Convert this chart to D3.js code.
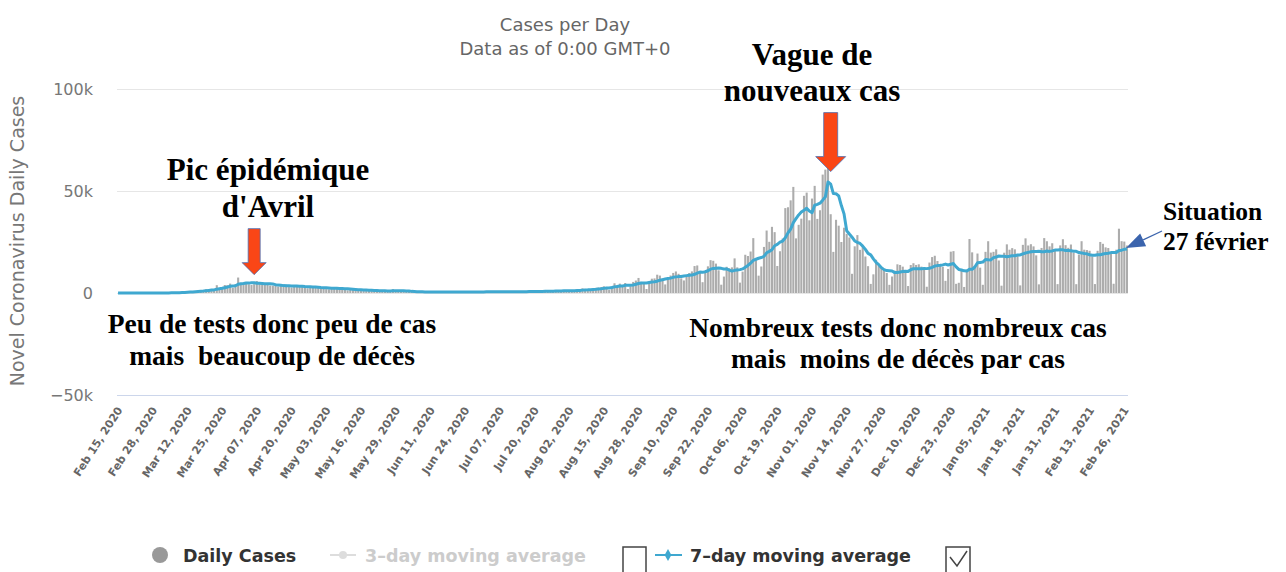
<!DOCTYPE html>
<html><head><meta charset="utf-8">
<script src="https://cdn.jsdelivr.net/npm/d3@7"></script>
<style>
body{margin:0;background:#fff;}
svg{display:block;}
text{white-space:pre;}
</style></head><body>
<svg id="chart" width="1286" height="572"></svg>
<script>
// ---- Daily new cases (France, Worldometer style), one array per month ----
const feb2020=[0,0,0,0,0,0,0,0,0,0,2,4,20,19,43];
const mar2020=[30,61,21,73,138,190,336,177,286,372,497,595,785,838,924,1210,1097,1404,1861,1617,1847,1559,3838,2446,2931,3922,3809,4611,2599,4376,7578];
const apr2020=[4861,4985,5233,4267,3912,4342,5850,4799,4286,4342,4114,3673,3540,3890,3200,3600,3300,4100,2900,2700,3800,3400,3100,3500,2800,2300,2600,3200,2900,2500];
const may2020=[2600,2300,1900,1800,2500,2700,2400,2100,1900,1500,1300,1800,1900,1600,1400,1300,1100,1000,1300,1400,1200,1100,900,800,700,1000,1100,1900,1300,1000,700];
const jun2020=[500,700,800,600,650,550,400,350,500,600,700,650,500,400,300,450,550,600,500,450,350,300,400,500,550,600,500,400,350,500];
const jul2020=[800,900,700,600,400,350,700,800,750,700,650,500,450,600,750,900,850,800,700,550,600,900,1000,1100,1050,900,700,800,1200,1300,1350];
const aug2020=[1346,1200,700,1039,1695,1604,2288,2000,1500,1397,1700,2500,2669,2846,3310,2946,1500,3100,4771,3776,4586,3602,4897,1955,3304,5429,6111,7379,5453,4967,1955];
const sep2020=[4982,7017,7157,8975,8550,7071,4203,6544,8577,9843,10561,9406,7183,6158,7852,9784,10593,13215,13498,10569,5298,10008,13072,16096,15797,14412,11123,4070,8051,12845];
const oct2020=[12148,12565,16972,12565,5084,10489,18746,18129,20339,26896,16101,8505,12993,22591,30621,25086,32427,29837,13243,20468,26676,41622,42032,45422,52010,26771,33417,36437,47637,49215,35641];
const nov2020=[46290,52518,36330,40558,58046,60486,86852,38619,20155,35879,33000,25000,32000,29000,27228,9406,22882,28383,21150,22882,17881,13157,4452,9155,16282,13563,12459,11221,9784,4005];
const dec2020=[8083,10934,14064,13750,12923,11022,3411,13713,14595,13750,14064,12923,11533,3063,14929,17615,18254,15674,13947,12799,5960,11795,20262,20526,4500,5000,11000,2960,11395,26457,19927];
const jan2021=[12489,19348,12424,4022,20177,25379,19814,20177,21406,15944,3582,19752,23852,21228,22000,21406,18559,3736,23608,26784,23292,23924,22858,18436,4240,22086,26916,25376,22858,24392,21406];
const feb2021=[4347,23337,26362,23448,22139,23770,19715,4317,18870,25387,21231,21063,20701,17898,4376,20701,25018,24116,22371,22046,19951,4529,21231,31519,25403,25207,23292];

const dailyCases=[].concat(feb2020,mar2020,apr2020,may2020,jun2020,jul2020,aug2020,sep2020,oct2020,nov2020,dec2020,jan2021,feb2021);

const tickLabels=["Feb 15, 2020","Feb 28, 2020","Mar 12, 2020","Mar 25, 2020","Apr 07, 2020","Apr 20, 2020","May 03, 2020","May 16, 2020","May 29, 2020","Jun 11, 2020","Jun 24, 2020","Jul 07, 2020","Jul 20, 2020","Aug 02, 2020","Aug 15, 2020","Aug 28, 2020","Sep 10, 2020","Sep 22, 2020","Oct 06, 2020","Oct 19, 2020","Nov 01, 2020","Nov 14, 2020","Nov 27, 2020","Dec 10, 2020","Dec 23, 2020","Jan 05, 2021","Jan 18, 2021","Jan 31, 2021","Feb 13, 2021","Feb 26, 2021"];
const tickInterval=13;
const yTicks=[-50000,0,50000,100000];
const yTickLabels=["\u221250k","0","50k","100k"];
const titleLines=["Cases per Day","Data as of 0:00 GMT+0"];
const yAxisTitle="Novel Coronavirus Daily Cases";

// annotation anchors (category index, value)
const peak1={index:51, value:9000};      // Apr 06, 2020
const peak2={index:267, value:59500};    // Nov 08, 2020

// ---- chart ----
const svg=d3.select("#chart");
const sans="DejaVu Sans, Verdana, sans-serif";
const n=dailyCases.length;
const plot={left:117,right:1128};
const x=d3.scaleBand().domain(d3.range(n)).range([plot.left,plot.right]).paddingInner(0.22);
const y=d3.scaleLinear().domain([-50000,100000]).range([395,89]);
const cx=i=>x(i)+x.bandwidth()/2;

const avg7=dailyCases.map((d,i)=>d3.mean(dailyCases.slice(Math.max(0,i-6),i+1)));

// title
svg.append("g").selectAll("text").data(titleLines).join("text")
  .attr("x",565).attr("y",(d,i)=>31+i*24).attr("text-anchor","middle")
  .attr("font-family",sans).attr("font-size",18).attr("fill","#666")
  .text(d=>d);

// gridlines + y labels
const yAxis=d3.axisLeft(y).tickValues(yTicks).tickSize(-(plot.right-plot.left)).tickFormat((d,i)=>yTickLabels[i]);
const gy=svg.append("g").attr("transform",`translate(${plot.left},0)`).call(yAxis);
gy.select(".domain").remove();
gy.selectAll(".tick line").attr("stroke",d=>d===-50000?"#ccd6eb":"#e6e6e6").attr("stroke-width",1);
gy.selectAll(".tick text").attr("x",-24).attr("dy","0.32em")
  .attr("font-family",sans).attr("font-size",16).attr("fill","#777");

svg.append("text").attr("transform","translate(24,241) rotate(-90)").attr("text-anchor","middle")
  .attr("font-family",sans).attr("font-size",19).attr("fill","#777")
  .text(yAxisTitle);

// bars
svg.append("g").selectAll("rect").data(dailyCases).join("rect")
  .attr("x",(d,i)=>x(i)).attr("width",x.bandwidth())
  .attr("y",d=>y(Math.max(0,d))).attr("height",d=>Math.abs(y(d)-y(0)))
  .attr("fill","#acacac");

// 7-day moving average
svg.append("path").datum(avg7)
  .attr("d",d3.line().x((d,i)=>cx(i)).y(d=>y(d)))
  .attr("fill","none").attr("stroke","#3fa8d0").attr("stroke-width",3).attr("stroke-linejoin","round");

// x axis labels
const tickIdx=d3.range(0,n,tickInterval).slice(0,tickLabels.length);
svg.append("g").selectAll("text").data(tickIdx).join("text")
  .attr("transform",d=>`translate(${cx(d)+5},${410}) rotate(-57)`)
  .attr("text-anchor","end")
  .attr("font-family",sans).attr("font-size",11).attr("font-weight","bold").attr("fill","#666")
  .text((d,i)=>tickLabels[i]);

// ---- annotations ----
const serif="Liberation Serif, Times New Roman, serif";
function note(lines,xc,y0,dy,size,anchor){
  svg.append("g").selectAll("text").data(lines).join("text")
    .attr("x",xc).attr("y",(d,i)=>y0+i*dy).attr("text-anchor",anchor||"middle")
    .attr("font-family",serif).attr("font-weight","bold").attr("font-size",size).attr("fill","#000")
    .text(d=>d);
}
note(["Pic épidémique","d'Avril"],268,180,37,31);
note(["Vague de","nouveaux cas"],812,65,36,31);
note(["Peu de tests donc peu de cas","mais  beaucoup de décès"],272,333,32,27.5);
note(["Nombreux tests donc nombreux cas","mais  moins de décès par cas"],898,337,31,27.5);
note(["Situation","27 février"],1163,220,30,25.5,"start");

function downArrow(tipX,tipY,len,shaftW,headW,headL){
  const t=tipY, s=tipY-headL, top=tipY-len;
  const pts=[[tipX-shaftW/2,top],[tipX+shaftW/2,top],[tipX+shaftW/2,s],[tipX+headW/2,s],[tipX,t],[tipX-headW/2,s],[tipX-shaftW/2,s]];
  svg.append("polygon").attr("points",pts.map(p=>p.join(",")).join(" "))
    .attr("fill","#fa4616").attr("stroke","#4a6fb5").attr("stroke-width",0.8);
}
downArrow(cx(peak1.index),y(peak1.value),46,12,24,12);
downArrow(cx(peak2.index),y(peak2.value),59,14,30,15);

// blue pointer to last value
const last=n-1;
const tip=[cx(last)-1,y(avg7[last])-1], tail=[1162,231];
const ang=Math.atan2(tail[1]-tip[1],tail[0]-tip[0]);
const hl=19,hw=7;
const bx=tip[0]+hl*Math.cos(ang), by=tip[1]+hl*Math.sin(ang);
svg.append("line").attr("x1",tail[0]).attr("y1",tail[1]).attr("x2",bx).attr("y2",by)
  .attr("stroke","#3b64ad").attr("stroke-width",1.2);
svg.append("polygon").attr("points",[tip,[bx+hw*Math.sin(ang),by-hw*Math.cos(ang)],[bx-hw*Math.sin(ang),by+hw*Math.cos(ang)]].map(p=>p.join(",")).join(" "))
  .attr("fill","#3b64ad");

// ---- legend ----
const lg=svg.append("g").attr("font-family",sans).attr("font-weight","bold").attr("font-size",17.5);
lg.append("circle").attr("cx",160).attr("cy",555).attr("r",8).attr("fill","#999");
lg.append("text").attr("x",183).attr("y",562).attr("fill","#333").text("Daily Cases");
lg.append("line").attr("x1",330).attr("x2",356).attr("y1",555).attr("y2",555).attr("stroke","#ddd").attr("stroke-width",2);
lg.append("circle").attr("cx",343).attr("cy",555).attr("r",4).attr("fill","#ddd");
lg.append("text").attr("x",365).attr("y",562).attr("fill","#ccc").text("3\u2013day moving average");
lg.append("rect").attr("x",623).attr("y",547).attr("width",23).attr("height",30).attr("fill","none").attr("stroke","#444").attr("stroke-width",1.5);
lg.append("line").attr("x1",655).attr("x2",682).attr("y1",555).attr("y2",555).attr("stroke","#3fa8d0").attr("stroke-width",2);
lg.append("path").attr("d",d3.symbol(d3.symbolDiamond,40)()).attr("transform","translate(668,555)").attr("fill","#3fa8d0");
lg.append("text").attr("x",690).attr("y",562).attr("fill","#333").text("7\u2013day moving average");
lg.append("rect").attr("x",946).attr("y",547).attr("width",24).attr("height",30).attr("fill","none").attr("stroke","#444").attr("stroke-width",1.5);
lg.append("path").attr("d","M950,557 L957,566 L967,551").attr("fill","none").attr("stroke","#444").attr("stroke-width",1.5);
</script>
</body></html>
